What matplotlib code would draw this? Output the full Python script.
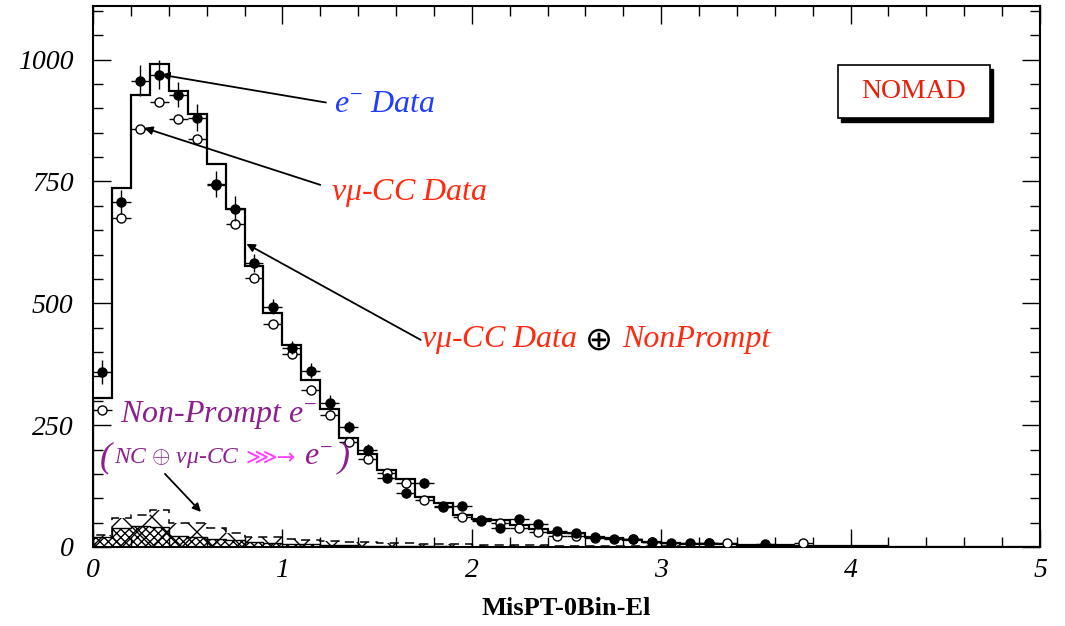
import matplotlib
matplotlib.use('Agg')
import matplotlib.pyplot as plt
from matplotlib.patches import Rectangle
from matplotlib.collections import LineCollection
import numpy as np

plt.rcParams['font.family'] = ['Liberation Serif', 'DejaVu Sans']
plt.rcParams['mathtext.fontset'] = 'custom'
plt.rcParams['mathtext.rm'] = 'Liberation Serif'
plt.rcParams['mathtext.it'] = 'Liberation Serif:italic'
plt.rcParams['mathtext.bf'] = 'Liberation Serif:bold:italic'
plt.rcParams['hatch.linewidth'] = 1.0

nan = np.nan

# 50 bins of 0.1 from 0 to 5
edges = np.round(np.arange(0, 5.01, 0.1), 2)
centers = edges[:-1] + 0.05

# nu_mu-CC data + non-prompt (histogram)
mc_sum = [306, 737, 927, 992, 936, 889, 786, 694, 577, 481,
          415, 343, 283, 224, 191, 158, 140, 103, 90, 66,
          57, 55, 45, 37, 29, 28, 21, 18, 14, 10,
          8, 7, 6, 6, 5, 4, 4, 3, 3, 2,
          2, 2, 1, 1, 1, 1, 1, 0, 0, 0]

# e- data (filled points)
e_data = [359, 708, 957, 969, 928, 881, 745, 694, 583, 493,
          409, 362, 296, 246, 199, 141, 111, 131, 82, 84,
          53, 39, 57, 47, 33, 28, 21, 16, 16, 11,
          8, 8, 9, nan, nan, 6]
e_err = [25, 24, 31, 30, 26, 27, 27, 26, 19, 15,
         14, 15, 15, 13, 12, 10, 10, 10, 9, 9,
         8, 8, 8, 7, 7, 6, 6, 5, 5, 5,
         4, 4, 4, nan, nan, 4]

# nu_mu-CC data (open points)
numu_data = [281, 675, 858, 913, 879, 838, 742, 663, 552, 458,
             396, 322, 271, 216, 180, 152, 131, 97, 84, 62,
             55, 49, 39, 31, 23, 23, 19, nan, 16, 10,
             nan, nan, 9, 8, nan, nan, nan, 8]

# non-prompt e- contributions
nonprompt_all = [25, 60, 66, 76, 50, 49, 38, 28, 21, 20,
                 16, 14, 12, 11, 10, 9, 8, 7, 6, 6,
                 5, 5, 4, 4, 3, 3, 3, 2, 2, 2,
                 2, 1, 1, 1, 1, 1, 1, 0, 0, 0,
                 0, 0, 0, 0, 0, 0, 0, 0, 0, 0]
nonprompt_nc = [21, 38, 44, 42, 22, 20, 17, 14, 11, 9,
                7, 6, 5, 4, 3, 3, 2, 2, 2, 1,
                1, 1, 1, 0, 0, 0, 0, 0, 0, 0,
                0, 0, 0, 0, 0, 0, 0, 0, 0, 0,
                0, 0, 0, 0, 0, 0, 0, 0, 0, 0]

xticks = [0, 1, 2, 3, 4, 5]
yticks = [0, 250, 500, 750, 1000]

W, H = 1065, 626
fig = plt.figure(figsize=(W / 100, H / 100), dpi=100)
ax_l, ax_r, ax_t, ax_b = 93, 1040, 6, 547
ax = fig.add_axes([ax_l / W, 1 - ax_b / H, (ax_r - ax_l) / W, (ax_b - ax_t) / H])

# non-prompt total: wide X hatching, clipped to the histogram shape
outline = ax.stairs(nonprompt_all, edges, fill=True, facecolor='none',
                    edgecolor='none', linewidth=0)
axw, axh = ax_r - ax_l, ax_b - ax_t
step = 30.0
segs = []
for c in np.arange(-axh, axw + axh, step):
    segs.append([(c / axw, 0), ((c + axh) / axw, 1)])
    segs.append([(c / axw, 0), ((c - axh) / axw, 1)])
wide = LineCollection(segs, colors='black', linewidths=1.0, transform=ax.transAxes)
ax.add_collection(wide)
wide.set_clip_path(outline)
ax.stairs(nonprompt_all, edges, color='black', linestyle=(0, (6, 4)), linewidth=1.1)

# NC part: dense cross-hatch
ax.stairs(nonprompt_nc, edges, fill=True, facecolor='white', edgecolor='black',
          hatch='xxxx', linewidth=0)
ax.stairs(nonprompt_nc, edges, color='black', linewidth=1.0)

# main histogram
ax.stairs(mc_sum, edges, color='black', linewidth=1.6)

# data points
e_data = np.array(e_data, dtype=float)
e_err = np.array(e_err, dtype=float)
m = ~np.isnan(e_data)
ax.errorbar(centers[:len(e_data)][m], e_data[m], yerr=e_err[m], xerr=0.05,
            fmt='o', color='black', ms=6.5, elinewidth=1.0, capsize=0, zorder=5)

numu_data = np.array(numu_data, dtype=float)
m = ~np.isnan(numu_data)
ax.errorbar(centers[:len(numu_data)][m], numu_data[m], xerr=0.05,
            fmt='o', color='black', mfc='white', mec='black', ms=6.5,
            elinewidth=1.0, capsize=0, zorder=4)

# axes styling
ax.set_xlim(0, 5)
ax.set_ylim(0, 1110)
ax.set_xticks(xticks)
ax.set_yticks(yticks)
ax.set_xticklabels([str(v) for v in xticks], fontstyle='italic', fontsize=20)
ax.set_yticklabels([str(v) for v in yticks], fontstyle='italic', fontsize=20)
ax.set_xticks(np.arange(0, 5.01, 0.2), minor=True)
ax.set_yticks(np.arange(0, 1101, 50), minor=True)
ax.tick_params(which='both', direction='in', top=True, right=True, width=1.0)
ax.tick_params(which='major', length=13)
ax.tick_params(which='minor', length=7)
ax.tick_params(axis='y', pad=14)
ax.tick_params(axis='x', pad=8)
for s in ax.spines.values():
    s.set_linewidth(1.5)
ax.set_xlabel('MisPT-0Bin-El', fontsize=19, fontweight='bold', labelpad=10)

# arrows
arrow = dict(arrowstyle='-|>', color='black', lw=1.3, mutation_scale=12,
             shrinkA=0, shrinkB=0)
ax.annotate('', xy=(0.36, 969), xytext=(1.23, 912), arrowprops=arrow)
ax.annotate('', xy=(0.27, 860), xytext=(1.20, 743), arrowprops=arrow)
ax.annotate('', xy=(0.81, 622), xytext=(1.73, 425), arrowprops=arrow)
ax.annotate('', xy=(0.57, 72), xytext=(0.38, 150), arrowprops=arrow)

blue = '#1f3cff'
red = '#ff2a10'
purple = '#8e1f8e'
magenta = '#ff40ff'
tfs = 23

ax.text(1.27, 908, r'$e^{-}$ Data', color=blue, fontsize=tfs,
        fontstyle='italic', va='center', zorder=10)
ax.text(1.255, 727, r'$\nu\mu$-CC Data', color=red, fontsize=tfs,
        fontstyle='italic', va='center', zorder=10)

t1 = ax.text(1.73, 425, r'$\nu\mu$-CC Data', color=red, fontsize=tfs,
             fontstyle='italic', va='center', zorder=10)
t2 = ax.annotate('\u2295', xy=(1, 0.5), xycoords=t1, xytext=(6, 0),
                 textcoords='offset points', va='center', ha='left',
                 fontsize=24, color='black', family=['DejaVu Sans'])
ax.annotate('NonPrompt', xy=(1, 0.5), xycoords=t2, xytext=(6, 0),
            textcoords='offset points', va='center', ha='left',
            fontsize=tfs, color=red, fontstyle='italic')

ax.text(0.14, 271, r'Non-Prompt $e^{-}$', color=purple, fontsize=tfs,
        fontstyle='italic', va='center', zorder=10)
p1 = ax.text(0.035, 183, '(', color=purple, fontsize=26, va='center',
             fontstyle='italic', zorder=10)
p2 = ax.annotate(r'NC $\oplus$ $\nu\mu$-CC', xy=(1, 0.5), xycoords=p1,
                 xytext=(2, 0), textcoords='offset points', va='center',
                 fontsize=17, color=purple, fontstyle='italic', zorder=10)
p3 = ax.annotate('\u22d9\u2192', xy=(1, 0.5), xycoords=p2, xytext=(4, 0),
                 textcoords='offset points', va='center', fontsize=16,
                 color=magenta, family=['DejaVu Sans'], zorder=10)
p4 = ax.annotate(r'$e^{-}$', xy=(1, 0.5), xycoords=p3, xytext=(6, 0),
                 textcoords='offset points', va='center', fontsize=tfs,
                 color=purple, zorder=10)
ax.annotate(')', xy=(1, 0.5), xycoords=p4, xytext=(3, 0),
            textcoords='offset points', va='center', fontsize=26,
            color=purple, fontstyle='italic', zorder=10)

# NOMAD label box with drop shadow
bx, by = (838 - ax_l) / axw, (ax_b - 118) / axh
bw, bh = 152 / axw, 53 / axh
ax.add_patch(Rectangle((bx + 3 / axw, by - 4 / axh), bw, bh, transform=ax.transAxes,
                       facecolor='black', edgecolor='black', zorder=6))
ax.add_patch(Rectangle((bx, by), bw, bh, transform=ax.transAxes,
                       facecolor='white', edgecolor='black', lw=1.2, zorder=7))
ax.text(bx + bw / 2, by + bh / 2, 'NOMAD', transform=ax.transAxes,
        ha='center', va='center', fontsize=20, color='#e8200a', zorder=8)

fig.savefig('out.png', dpi=100, facecolor='white')
